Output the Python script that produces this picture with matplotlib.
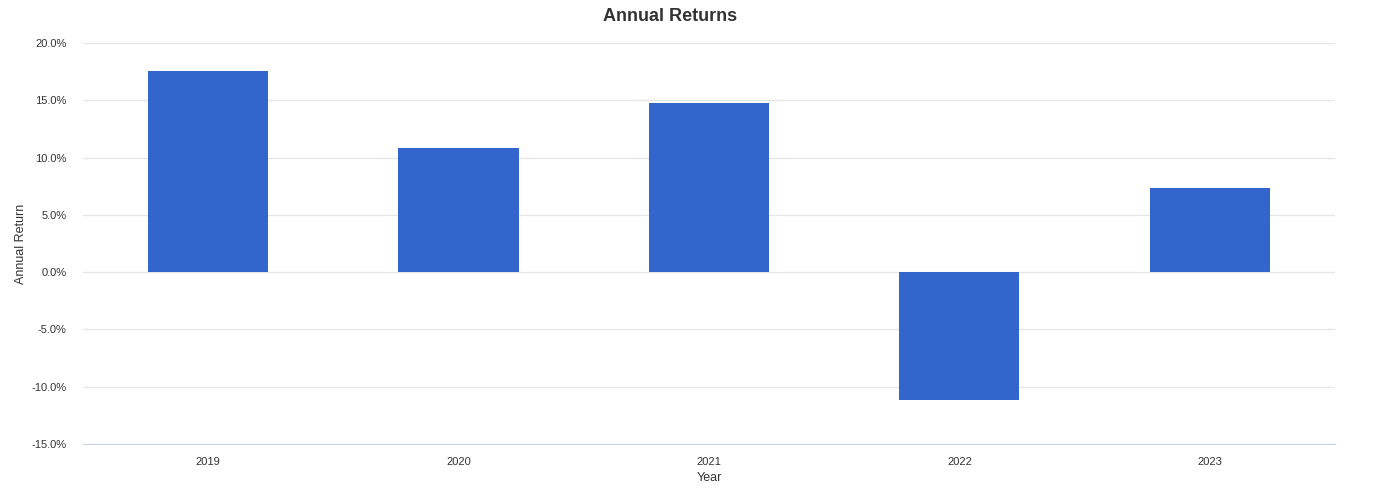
import numpy as np
import matplotlib.pyplot as plt
from matplotlib.ticker import FuncFormatter

plt.rcParams['font.family'] = ['Liberation Sans', 'DejaVu Sans']

years = ['2019', '2020', '2021', '2022', '2023']
returns = [17.6, 10.8, 14.75, -11.15, 7.35]

fig = plt.figure(figsize=(13.97, 4.96), dpi=100)
ax = fig.add_axes([0.0594, 0.1048, 0.8962, 0.8085])

x = np.arange(len(years))
ax.bar(x, returns, width=0.48, color='#3366cc', zorder=3)

ax.set_xlim(-0.5, len(years) - 0.5)
ax.set_ylim(-15, 20)
ax.set_yticks(np.arange(-15, 21, 5))
ax.yaxis.set_major_formatter(FuncFormatter(lambda v, p: f"{v:.1f}%"))
ax.set_xticks(x)
ax.set_xticklabels(years)

ax.grid(axis='y', color='#e6e6e6', linewidth=1, zorder=0)
for s in ['top', 'right', 'left']:
    ax.spines[s].set_visible(False)
ax.spines['bottom'].set_color('#ccd6eb')
ax.tick_params(axis='both', length=0, labelsize=8, colors='#333333')
ax.tick_params(axis='x', pad=9)
ax.tick_params(axis='y', pad=12)

ax.set_xlabel('Year', fontsize=9, color='#333333', labelpad=4)
ax.set_ylabel('Annual Return', fontsize=9, color='#333333', labelpad=3)
fig.text(0.4796, 0.966, 'Annual Returns', ha='center', va='center',
         fontsize=13, fontweight='bold', color='#333333')

fig.savefig('out.png', dpi=100)
